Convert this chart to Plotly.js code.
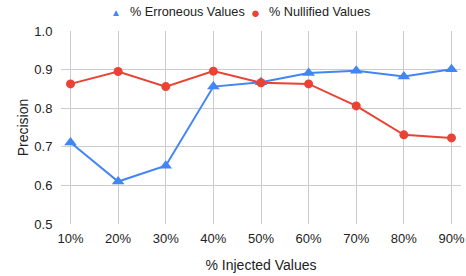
<!DOCTYPE html>
<html><head><meta charset="utf-8">
<script src="https://cdn.plot.ly/plotly-3.0.1.min.js"></script>
<style>html,body{margin:0;padding:0;background:#fff}#chart{width:466px;height:276px}</style>
</head><body><div id="chart"></div>
<script>
const categories = ["10%","20%","30%","40%","50%","60%","70%","80%","90%"];
const erroneous = [0.711,0.610,0.651,0.856,0.867,0.891,0.897,0.882,0.901];
const nullified = [0.863,0.895,0.856,0.896,0.866,0.863,0.806,0.731,0.723];
const seriesNames = ["% Erroneous Values","% Nullified Values"];
const yTicks = [0.5,0.6,0.7,0.8,0.9,1.0];
const yTickText = ["0.5","0.6","0.7","0.8","0.9","1.0"];

const blue = "#4285F4", red = "#EA4335";
const W = 466, H = 276;
const M = {l: 61, r: 5, t: 31, b: 52};

const traces = [
  {x: categories, y: erroneous, name: seriesNames[0], type: "scatter", mode: "lines+markers", showlegend: false,
   line: {color: blue, width: 2}, marker: {symbol: "triangle-up", size: 11, color: blue}},
  {x: categories, y: nullified, name: seriesNames[1], type: "scatter", mode: "lines+markers", showlegend: false,
   line: {color: red, width: 2}, marker: {symbol: "circle", size: 9, color: red}}
];

// legend drawn as annotations (symbol + label); pixel positions converted to paper coords
const px = v => (v - M.l) / (W - M.l - M.r);
const legendYPaper = 1 + (M.t - 12) / (H - M.t - M.b);
const annotations = [
  {text: "▲", font: {size: 10, color: blue}, x: px(116), xanchor: "center"},
  {text: seriesNames[0], font: {size: 12.7, color: "#222"}, x: px(128), xanchor: "left"},
  {text: "●", font: {size: 15, color: red}, x: px(255), xanchor: "center"},
  {text: seriesNames[1], font: {size: 12.7, color: "#222"}, x: px(267), xanchor: "left"}
].map(a => Object.assign({xref: "paper", yref: "paper", y: legendYPaper, showarrow: false, yanchor: "middle"}, a));

const layout = {
  width: W, height: H,
  margin: M,
  paper_bgcolor: "#fff", plot_bgcolor: "#fff",
  font: {family: "Liberation Sans, Arial, sans-serif", size: 13, color: "#222"},
  showlegend: false,
  annotations: annotations,
  xaxis: {type: "category", range: [-0.2, 8.2], showgrid: true, gridcolor: "#ccc", gridwidth: 1,
          zeroline: false, showline: false, ticks: "outside", ticklen: 2, tickcolor: "rgba(0,0,0,0)",
          tickfont: {size: 13},
          title: {text: "% Injected Values", font: {size: 14}, standoff: 15}},
  yaxis: {range: [0.5, 1.0], tickvals: yTicks, ticktext: yTickText, showgrid: true, gridcolor: "#ccc",
          zeroline: false, showline: false, ticks: "outside", ticklen: 5, tickcolor: "rgba(0,0,0,0)",
          tickfont: {size: 13},
          title: {text: "Precision", font: {size: 14}, standoff: 2}}
};
Plotly.newPlot("chart", traces, layout, {displayModeBar: false, staticPlot: true});
</script></body></html>
